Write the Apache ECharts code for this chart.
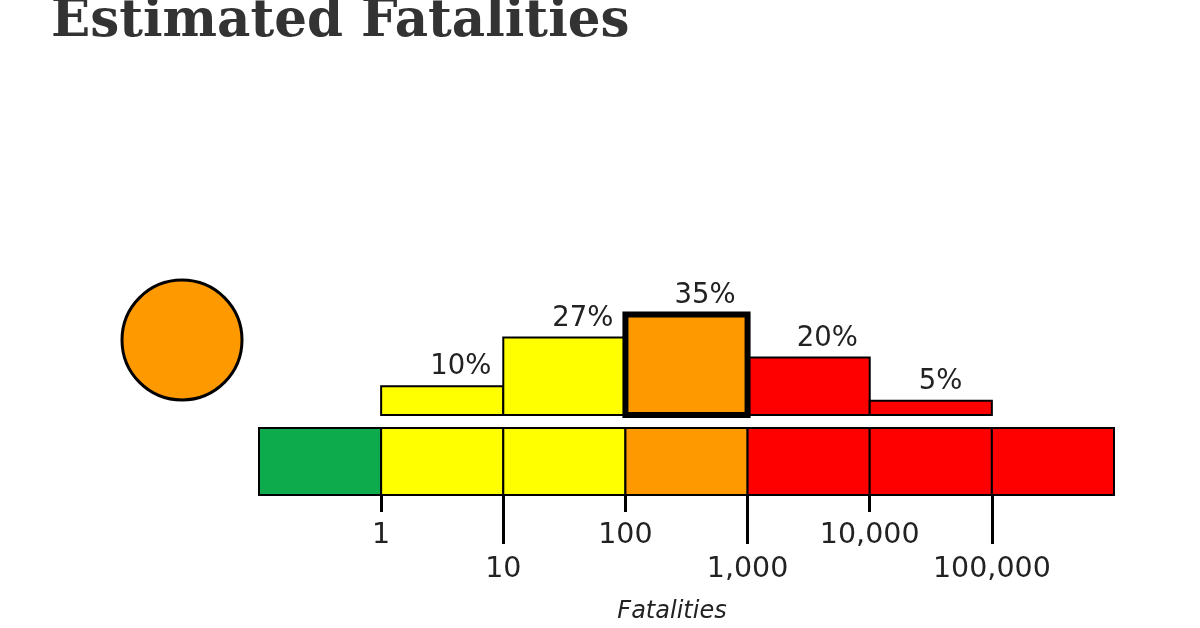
<!DOCTYPE html>
<html>
<head>
<meta charset="UTF-8">
<title>Estimated Fatalities</title>
<script src="https://cdn.jsdelivr.net/npm/echarts@6/dist/echarts.min.js"></script>
<style>
  html, body { margin: 0; padding: 0; background: #fff; }
  #main { width: 1200px; height: 628px; }
</style>
</head>
<body>
<div id="main"></div>
<script>
// x is log10(fatalities): each bin covers one decade
var binStart = [0, 1, 2, 3, 4];
var binProb = [10, 27, 35, 20, 5];
var binColor = ['#ffff00', '#ffff00', '#ff9900', '#ff0000', '#ff0000'];
var alertBin = 2;

// colour scale under the histogram, from 0.1 to 1,000,000
var scaleStart = [-1, 0, 1, 2, 3, 4, 5];
var scaleColor = ['#0dab4b', '#ffff00', '#ffff00', '#ff9900', '#ff0000', '#ff0000', '#ff0000'];

var tickValues = [0, 1, 2, 3, 4, 5];
var tickLabels = ['1', '10', '100', '1,000', '10,000', '100,000'];
var alertColor = '#ff9900';

var textColor = '#222';
var sans = '"DejaVu Sans", sans-serif';

var myChart = echarts.init(document.getElementById('main'));

function tickText(v) {
  return tickLabels[tickValues.indexOf(v)];
}

// histogram bars + percent labels
function renderBin(params, api) {
  var x0 = api.value(0), v = api.value(1), i = params.dataIndex;
  var p0 = api.coord([x0, v]);
  var p1 = api.coord([x0 + 1, 0]);
  var isAlert = i === alertBin;
  return {
    type: 'group',
    children: [{
      type: 'rect',
      z2: isAlert ? 10 : 1,
      shape: { x: p0[0], y: p0[1], width: p1[0] - p0[0], height: p1[1] - p0[1] },
      style: { fill: binColor[i], stroke: '#000', lineWidth: isAlert ? 6 : 2 }
    }, {
      type: 'text',
      x: (p0[0] + p1[0]) / 2 - 12,
      y: p0[1] - 19,
      style: {
        text: v + '%', fill: textColor, fontSize: 27.5, fontFamily: sans,
        align: 'left', verticalAlign: 'middle'
      }
    }]
  };
}

// colour band segments
function renderBand(params, api) {
  var x0 = api.value(0), i = params.dataIndex;
  var p0 = api.coord([x0, 1]);
  var p1 = api.coord([x0 + 1, 0]);
  return {
    type: 'rect',
    shape: { x: p0[0], y: p0[1], width: p1[0] - p0[0], height: p1[1] - p0[1] },
    style: { fill: scaleColor[i], stroke: '#000', lineWidth: 2 }
  };
}

var option = {
  animation: false,
  backgroundColor: '#fff',
  grid: [
    { left: 259, width: 855, top: 300, height: 115 },
    { left: 259, width: 855, top: 428, height: 67 }
  ],
  xAxis: [
    { gridIndex: 0, type: 'value', min: -1, max: 6, show: false },
    {
      gridIndex: 1, type: 'value', min: -1, max: 6, position: 'bottom', offset: 0,
      axisLine: { show: false },
      splitLine: { show: false },
      axisTick: { customValues: [0, 2, 4], length: 17, lineStyle: { color: '#000', width: 3 } },
      axisLabel: {
        customValues: [0, 2, 4], margin: 26, formatter: tickText,
        color: textColor, fontSize: 28.5, fontFamily: sans
      },
      name: 'Fatalities',
      nameLocation: 'middle',
      nameGap: 105,
      nameTextStyle: {
        color: textColor, fontSize: 24, fontStyle: 'italic', fontFamily: sans,
        padding: [0, 29, 0, 0]
      }
    },
    {
      gridIndex: 1, type: 'value', min: -1, max: 6, position: 'bottom', offset: 0,
      axisLine: { show: false },
      splitLine: { show: false },
      axisTick: { customValues: [1, 3, 5], length: 49, lineStyle: { color: '#000', width: 3 } },
      axisLabel: {
        customValues: [1, 3, 5], margin: 60, formatter: tickText,
        color: textColor, fontSize: 28.5, fontFamily: sans
      }
    }
  ],
  yAxis: [
    { gridIndex: 0, type: 'value', min: 0, max: 40, show: false },
    { gridIndex: 1, type: 'value', min: 0, max: 1, show: false }
  ],
  graphic: [
    {
      type: 'text', left: 51, top: -3,
      style: {
        text: 'Estimated Fatalities', fill: '#333',
        fontSize: 51.5, fontWeight: 'bold', fontFamily: '"DejaVu Serif", serif'
      }
    },
    {
      type: 'circle',
      shape: { cx: 182, cy: 340, r: 60 },
      style: { fill: alertColor, stroke: '#000', lineWidth: 3 }
    }
  ],
  series: [
    {
      type: 'custom', xAxisIndex: 1, yAxisIndex: 1,
      renderItem: renderBand,
      data: scaleStart.map(function (s) { return [s]; })
    },
    {
      type: 'custom', xAxisIndex: 0, yAxisIndex: 0,
      renderItem: renderBin,
      data: binStart.map(function (s, i) { return [s, binProb[i]]; })
    }
  ]
};

myChart.setOption(option);
</script>
</body>
</html>
